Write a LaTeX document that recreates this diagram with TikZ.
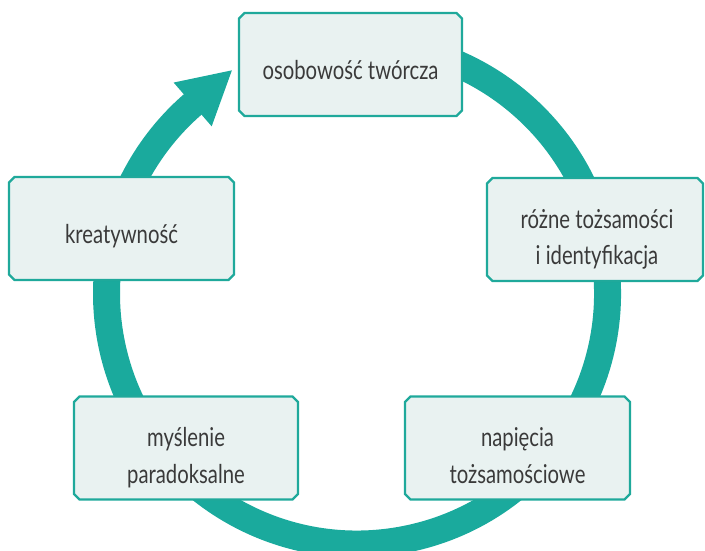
\documentclass[tikz,border=0pt]{standalone}
\usepackage{fontspec}
\setmainfont[FakeStretch=0.78]{Lato}
\usetikzlibrary{calc}
\definecolor{ringc}{HTML}{1AAA9D}
\definecolor{boxfill}{HTML}{E9F2F1}
\definecolor{boxline}{HTML}{1FA99B}
\definecolor{txt}{HTML}{3A3A3A}
\newcommand\chambox[1]{%
  \filldraw[boxdraw] ([xshift=5.5pt]#1.north west) -- ([xshift=-5.5pt]#1.north east)
    -- ([yshift=-5.5pt]#1.north east) -- ([yshift=5.5pt]#1.south east)
    -- ([xshift=-5.5pt]#1.south east) -- ([xshift=5.5pt]#1.south west)
    -- ([yshift=5.5pt]#1.south west) -- ([yshift=-5.5pt]#1.north west) -- cycle;}
\begin{document}
\begin{tikzpicture}[x=1pt,y=1pt,
 box/.style={rectangle, draw=none, fill=none, inner sep=0pt, outer sep=0pt, minimum height=103pt},
 boxdraw/.style={draw=boxline, fill=boxfill, line width=2.2pt, line join=miter},
 lbl/.style={text=txt, font=\fontsize{26}{36.5}\selectfont, align=center,
   text height=18pt, text depth=5pt, inner sep=0pt},
 ringline/.style={draw=ringc, line width=27pt}]
\useasboundingbox (0,0) rectangle (705,-551);
\coordinate (c) at (357,-293.5);
% ring
\draw[ringline] ($(c)+(100:250.5)$) arc[start angle=100, end angle=-229.7, radius=250.5];
% arrow head
\fill[ringc] ($(c)+(131:279.5)$) -- ($(c)+(131:250.5)+(41:52)$) -- ($(c)+(131:221.5)$) -- cycle;
% boxes
\node[box, minimum width=223pt] (b1) at (350.5,-64.5) {};
\node[box, minimum width=225pt] (b2) at (121.5,-228.5) {};
\node[box, minimum width=216pt] (b5) at (595,-229.5) {};
\node[box, minimum width=225pt] (b3) at (517.5,-448) {};
\node[box, minimum width=224pt] (b4) at (186,-448) {};
\chambox{b1}
\chambox{b2}
\chambox{b5}
\chambox{b3}
\chambox{b4}
% labels
\node[lbl] (t1) at ([yshift=-9pt]b1.center) {osobowość twórcza};
\node[lbl] (t2) at ([yshift=-8pt]b2.center) {kreatywność};
\node[lbl] (t5) at ([xshift=2pt,yshift=-28.5pt]b5.center) {różne tożsamości\\i identyfikacja};
\node[lbl] (t3) at ([yshift=-28.5pt]b3.center) {napięcia\\tożsamościowe};
\node[lbl] (t4) at ([yshift=-28.5pt]b4.center) {myślenie\\paradoksalne};
\end{tikzpicture}
\end{document}
